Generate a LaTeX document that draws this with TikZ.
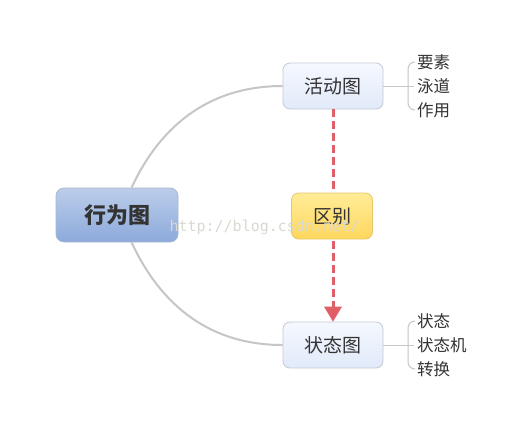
\documentclass[tikz,border=0pt]{standalone}
\usepackage{fontspec}
\usepackage{xcolor}
\usepackage{tikz}
\usetikzlibrary{calc,arrows.meta}
\newfontfamily\cjk{Noto Sans CJK SC}
\setmonofont{DejaVu Sans Mono}
\definecolor{ink}{HTML}{333333}
\definecolor{wire}{HTML}{C6C6C6}
\definecolor{maintop}{HTML}{BCCDEA}
\definecolor{mainbot}{HTML}{8CAADB}
\definecolor{mainrim}{HTML}{AAB9D2}
\definecolor{subtop}{HTML}{F5F8FE}
\definecolor{subbot}{HTML}{E1EAFA}
\definecolor{subrim}{HTML}{C4C9D2}
\definecolor{goldtop}{HTML}{FFEC98}
\definecolor{goldbot}{HTML}{FFD75E}
\definecolor{goldrim}{HTML}{E8C76A}
\definecolor{arrowred}{HTML}{E05E68}
\definecolor{mark}{HTML}{D9D9D2}
\tikzset{
  rootbox/.style={draw=mainrim, line width=0.8pt, rounded corners=8pt, top color=maintop, bottom color=mainbot,
    minimum width=122pt, minimum height=54pt, text=ink, font=\cjk\bfseries\fontsize{22}{25}\selectfont},
  subbox/.style={draw=subrim, line width=0.8pt, rounded corners=7pt, top color=subtop, bottom color=subbot,
    minimum width=100pt, minimum height=46pt, text=ink, font=\cjk\fontsize{19}{22}\selectfont},
  diffbox/.style={draw=goldrim, line width=0.8pt, rounded corners=7pt, top color=goldtop, bottom color=goldbot,
    minimum width=81pt, minimum height=46pt, text=ink, font=\cjk\fontsize{19}{22}\selectfont},
  leaf/.style={anchor=west, inner sep=0pt, text=ink, font=\cjk\fontsize{16.5}{19}\selectfont},
  branch/.style={draw=wire, line width=2pt},
  twig/.style={draw=wire, line width=1pt},
  diffline/.style={draw=arrowred, line width=3pt, dash pattern=on 8pt off 4pt}
}
\begin{document}
\begin{tikzpicture}[x=1pt,y=-1pt]
\useasboundingbox[fill=white] (0,0) rectangle (527,431);
% nodes
\node[rootbox] (xwt) at (117,215) {行为图};
\node[subbox] (hdt) at (333,86) {活动图};
\node[subbox] (ztt) at (333,345) {状态图};

% difference arrow
\draw[diffline] (hdt.south) -- ($(ztt.north)+(0,-14)$);
\fill[arrowred] ($(ztt.north)+(-9,-15)$) -- ($(ztt.north)+(9,-15)$) -- (ztt.north) -- cycle;
\node[diffbox] (qb) at (332,216) {区别};

% branches
\draw[branch] (xwt.62) to[out=65,in=180] (hdt.west);
\draw[branch] (xwt.-62) to[out=-65,in=180] (ztt.west);

% leaves of activity diagram
\node[leaf] (ys) at (417,62) {要素};
\node[leaf] (yd) at (417,86) {泳道};
\node[leaf] (zy) at (417,110) {作用};
\draw[twig] (hdt.east) -- (414,86);
\draw[twig] ($(ys.west)+(-2,0)$) to[out=180,in=90] (408,69) -- (408,103) to[out=-90,in=180] ($(zy.west)+(-2,0)$);

% leaves of state diagram
\node[leaf] (zt) at (417,321) {状态};
\node[leaf] (ztj) at (417,345) {状态机};
\node[leaf] (zh) at (417,369) {转换};
\draw[twig] (ztt.east) -- (414,345);
\draw[twig] ($(zt.west)+(-2,0)$) to[out=180,in=90] (408,328) -- (408,362) to[out=-90,in=180] ($(zh.west)+(-2,0)$);

% watermark
\node[anchor=west, text=mark, font=\ttfamily\fontsize{15}{18}\selectfont] (wm) at (166,227) {http://blog.csdn.net/};
\end{tikzpicture}
\end{document}
